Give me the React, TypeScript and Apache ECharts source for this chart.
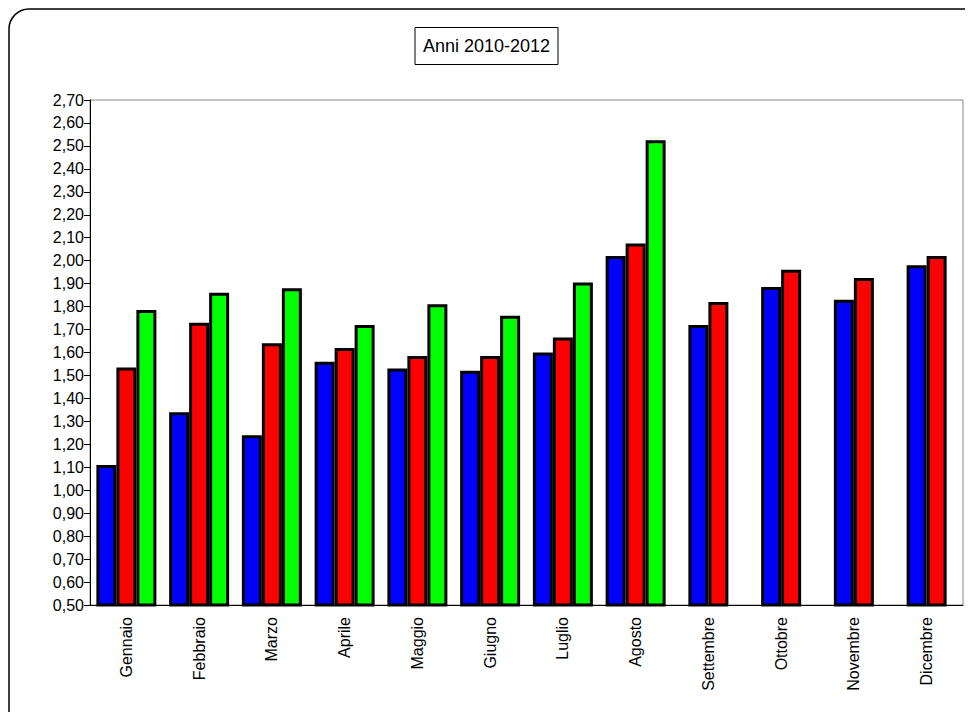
import { useEffect, useRef } from "react";
import * as echarts from "echarts";

const months = ["Gennaio", "Febbraio", "Marzo", "Aprile", "Maggio", "Giugno", "Luglio", "Agosto", "Settembre", "Ottobre", "Novembre", "Dicembre"];
const y2010 = [1.11, 1.34, 1.24, 1.56, 1.53, 1.52, 1.6, 2.02, 1.72, 1.885, 1.83, 1.98];
const y2011 = [1.535, 1.73, 1.64, 1.62, 1.585, 1.585, 1.665, 2.075, 1.82, 1.96, 1.925, 2.02];
const y2012 = [1.785, 1.86, 1.88, 1.72, 1.81, 1.76, 1.905, 2.525];
const threeYearCount = y2012.length;

const border = { borderColor: "#000", borderWidth: 3 };

export default function App() {
  const ref = useRef<HTMLDivElement | null>(null);

  useEffect(() => {
    if (!ref.current) return;
    const chart = echarts.init(ref.current, undefined, { renderer: "svg" });
    const first = (arr: number[]) => months.map((_, i) => (i < threeYearCount ? arr[i] : null));
    const last = (arr: number[]) => months.map((_, i) => (i >= threeYearCount ? arr[i] : null));
    const bar = (data: (number | null)[], color: string, xAxisIndex: number) => ({
      type: "bar" as const,
      data,
      xAxisIndex,
      barWidth: 20,
      barGap: "0%",
      itemStyle: { color, ...border },
    });
    chart.setOption({
      animation: false,
      textStyle: { fontFamily: "Liberation Sans, Arial, sans-serif" },
      title: {
        text: "Anni 2010-2012",
        left: "center",
        top: 19,
        borderColor: "#000",
        borderWidth: 1,
        padding: [10, 8],
        textStyle: { fontSize: 18, fontWeight: "normal", color: "#000" },
      },
      graphic: [
        {
          type: "rect",
          shape: { x: 1, y: 1, width: 1100, height: 1100, r: 20 },
          style: { fill: "none", stroke: "#000", lineWidth: 1.5 },
          silent: true,
        },
      ],
      grid: { left: 82, right: 2, top: 92, bottom: 107, show: true, borderColor: "#888", borderWidth: 1 },
      xAxis: [
        {
          type: "category",
          data: months,
          axisLine: { lineStyle: { color: "#000" } },
          axisTick: { length: 6, lineStyle: { color: "#000" } },
          axisLabel: { rotate: 90, fontSize: 16, color: "#000", margin: 12 },
        },
        { type: "category", data: months, show: false },
      ],
      yAxis: {
        type: "value",
        min: 0.5,
        max: 2.7,
        interval: 0.1,
        axisLine: { show: true, lineStyle: { color: "#000" } },
        axisTick: { show: true, length: 6, lineStyle: { color: "#000" } },
        splitLine: { show: false },
        axisLabel: {
          fontSize: 16,
          color: "#000",
          margin: 6,
          formatter: (v: number) => v.toFixed(2).replace(".", ","),
        },
      },
      series: [
        bar(first(y2010), "#0000ff", 0),
        bar(first(y2011), "#ff0000", 0),
        bar(first(y2012), "#00ff00", 0),
        bar(last(y2010), "#0000ff", 1),
        bar(last(y2011), "#ff0000", 1),
      ],
    });
    return () => chart.dispose();
  }, []);

  return <div ref={ref} style={{ width: 957, height: 704 }} />;
}
